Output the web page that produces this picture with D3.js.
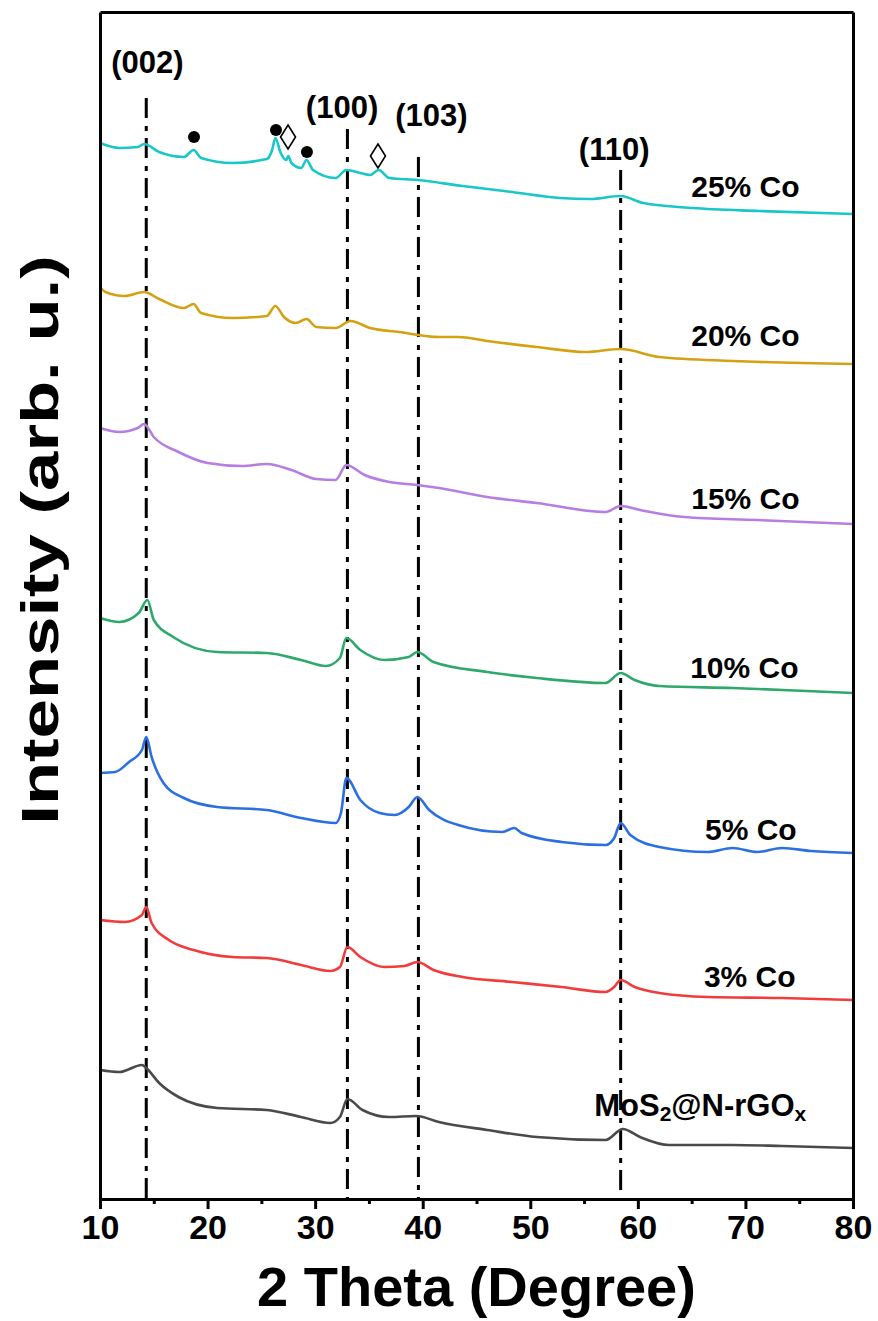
<!DOCTYPE html>
<html>
<head>
<meta charset="utf-8">
<script src="https://cdn.jsdelivr.net/npm/d3@7"></script>
<style>
  html, body { margin: 0; padding: 0; background: #fff; }
  svg text { font-family: "Liberation Sans", Arial, sans-serif; font-weight: bold; fill: #000; }
</style>
</head>
<body>
<div id="chart"></div>
<script>
// XRD patterns, 2 theta (deg) vs intensity (arb. u., stacked offsets)
const xTicks = [10, 20, 30, 40, 50, 60, 70, 80];
const xMinorTicks = [15, 25, 35, 45, 55, 65, 75];

const seriesNames  = ["25% Co", "20% Co", "15% Co", "10% Co", "5% Co", "3% Co", "MoS2@N-rGOx"];
const seriesColors = ["#19c6c8", "#d4a112", "#b67ee0", "#2ea96b", "#2b6fe0", "#f23c3c", "#4a4a4a"];

const co25 = [[10,1056],[11.8,1051],[13.5,1052],[14.1,1055],[15.5,1047],[17.8,1042],[18.7,1049],[19.4,1041],[22.3,1036],[25.5,1040],[26.0,1049],[26.3,1061],[26.8,1046],[27.3,1039],[27.5,1043],[27.8,1036],[28.7,1031],[29.2,1039],[29.8,1029],[31.9,1021],[32.9,1029],[34.2,1026],[35.1,1024],[35.9,1029],[36.9,1021],[39.5,1019],[43.7,1013],[48.3,1007],[52.8,1001],[55.6,1000],[58.4,1003],[60.5,996],[65.1,991],[71.3,988],[80,985]];
const co20 = [[10,912],[10.5,907],[12.3,903],[14.1,907],[15.5,900],[17.8,891],[18.7,895],[19.4,886],[22.3,881],[25.5,883],[26.3,893],[27.1,882],[28.2,876],[29.2,880],[30.1,872],[31.9,871],[33.3,878],[35.1,871],[37.8,867],[41.5,862],[43.3,862],[46.0,858],[50.6,852],[55.1,847],[58.4,850],[62.0,842],[68.8,838],[80,835]];
const co15 = [[10,771],[11.8,767],[13.5,771],[14.1,775],[15.0,762],[17.3,747],[20.0,736],[23.2,733],[25.5,735],[27.8,729],[30.1,720],[31.9,719],[32.9,734],[34.6,724],[36.9,717],[39.5,714],[41.5,711],[46.0,702],[50.6,696],[57.0,687],[58.4,693],[60.2,689],[64.3,682],[71.1,679],[80,675]];
const co10 = [[10,581],[11.8,577],[13.6,586],[14.4,599],[15.0,579],[16.8,562],[20.9,547],[25.5,546],[28.7,539],[31.0,533],[32.3,541],[32.9,561],[34.2,549],[36.4,539],[38.7,542],[39.5,547],[41.0,537],[46.0,527],[50.6,521],[57.0,516],[58.4,526],[59.7,519],[62.0,513],[68.8,511],[75.7,508],[80,506]];
const co5  = [[10,426],[11.4,427],[12.7,437],[13.9,449],[14.3,462],[14.8,442],[15.9,416],[17.8,401],[20.9,392],[25.5,389],[28.7,381],[31.9,376],[32.4,386],[32.9,421],[34.2,399],[36.0,386],[37.4,384],[38.7,392],[39.5,402],[40.6,389],[43.3,374],[47.4,367],[48.5,371],[49.2,366],[52.9,357],[57.0,354],[57.8,361],[58.4,376],[59.3,364],[62.0,352],[66.5,347],[68.8,351],[71.1,347],[73.4,351],[76.1,348],[80,346]];
const co3  = [[10,279],[12.3,277],[13.9,284],[14.3,292],[14.8,276],[16.4,259],[18.7,249],[22.3,242],[25.5,241],[28.7,234],[31.4,228],[32.3,232],[33.0,252],[34.2,242],[36.4,232],[38.3,233],[39.5,237],[41.0,229],[43.7,222],[48.3,217],[52.9,212],[57.0,207],[57.8,212],[58.4,219],[59.7,212],[62.0,206],[66.5,202],[73.4,201],[80,199]];
const mos2 = [[10,129],[11.8,127],[13.9,134],[14.3,131],[15.5,116],[17.3,102],[20.9,91],[25.5,89],[28.7,82],[31.4,76],[32.3,82],[33.0,100],[34.4,89],[36.9,82],[39.4,83],[41.5,77],[46.0,69],[50.6,62],[57.0,59],[58.6,70],[60.2,62],[62.9,54],[68.8,54],[73.4,53],[80,51]];
const seriesData = [co25, co20, co15, co10, co5, co3, mos2];

// series label anchors (2theta, intensity)
const seriesLabelX = [70, 70, 70, 69.9, 70.5, 70.4, 65.8];
const seriesLabelY = [1013, 864, 701, 532, 370, 223, 94];

// reference planes
const planes      = ["(002)", "(100)", "(103)", "(110)"];
const planePos    = [14.3, 33.0, 39.6, 58.4];
const planeTop    = [1101, 1070, 1042, 1029];
const planeLabelX = [14.4, 32.5, 40.8, 57.8];
const planeLabelY = [1137, 1092, 1084, 1050];

// impurity markers: circles and open diamonds
const dotPos     = [[18.74, 1062], [26.36, 1069], [29.24, 1047]];
const diamondPos = [[27.48, 1062], [35.84, 1043]];

const W = 878, H = 1321;
const margin = { top: 12, right: 25, bottom: 122, left: 100 };

const svg = d3.select("#chart").append("svg")
  .attr("width", W).attr("height", H)
  .style("background", "#fff");

const x = d3.scaleLinear().domain([10, 80]).range([margin.left, W - margin.right]);
const y = d3.scaleLinear().domain([0, 1187]).range([H - margin.bottom, margin.top]);

// dash-dot reference lines
svg.append("g").selectAll("line")
  .data(planePos).enter().append("line")
  .attr("x1", d => x(d)).attr("x2", d => x(d))
  .attr("y1", (d, i) => y(planeTop[i])).attr("y2", y(0))
  .attr("stroke", "#000").attr("stroke-width", 3)
  .attr("stroke-dasharray", "20,8,5,7");

// curves
const line = d3.line().x(d => x(d[0])).y(d => y(d[1])).curve(d3.curveMonotoneX);
svg.append("g").selectAll("path")
  .data(seriesData).enter().append("path")
  .attr("d", line)
  .attr("fill", "none")
  .attr("stroke", (d, i) => seriesColors[i])
  .attr("stroke-width", 2.6)
  .attr("stroke-linejoin", "round");

// series labels
const labels = svg.append("g").selectAll("text")
  .data(seriesNames).enter().append("text")
  .attr("x", (d, i) => x(seriesLabelX[i]))
  .attr("y", (d, i) => y(seriesLabelY[i]))
  .attr("text-anchor", "middle")
  .attr("dominant-baseline", "central")
  .style("font-size", "30px");
labels.filter(d => d !== "MoS2@N-rGOx").text(d => d);
labels.filter(d => d === "MoS2@N-rGOx")
  .style("font-size", "31px")
  .each(function () {
    const t = d3.select(this);
    t.append("tspan").text("MoS");
    t.append("tspan").text("2").style("font-size", "21px").attr("dy", 8);
    t.append("tspan").text("@N-rGO").attr("dy", -8);
    t.append("tspan").text("x").style("font-size", "21px").attr("dy", 8);
  });

// plane labels
svg.append("g").selectAll("text")
  .data(planes).enter().append("text")
  .attr("x", (d, i) => x(planeLabelX[i]))
  .attr("y", (d, i) => y(planeLabelY[i]))
  .attr("text-anchor", "middle")
  .attr("dominant-baseline", "central")
  .style("font-size", "31px")
  .text(d => d);

// markers
svg.append("g").selectAll("circle")
  .data(dotPos).enter().append("circle")
  .attr("cx", d => x(d[0])).attr("cy", d => y(d[1]))
  .attr("r", 6).attr("fill", "#000");
svg.append("g").selectAll("path")
  .data(diamondPos).enter().append("path")
  .attr("d", d => {
    const cx = x(d[0]), cy = y(d[1]);
    return `M${cx},${cy - 12}L${cx + 7.5},${cy}L${cx},${cy + 12}L${cx - 7.5},${cy}Z`;
  })
  .attr("fill", "#fff").attr("stroke", "#000").attr("stroke-width", 1.6);

// axes frame
const axisW = 3;
const xAxis = svg.append("g")
  .attr("transform", `translate(0,${y(0)})`)
  .call(d3.axisBottom(x).tickValues(xTicks).tickSize(10).tickPadding(6).tickSizeOuter(0));
svg.append("g")
  .attr("transform", `translate(0,${y(0)})`)
  .call(d3.axisBottom(x).tickValues(xMinorTicks).tickSize(5).tickFormat(""))
  .call(g => g.select(".domain").remove());
svg.append("g").attr("transform", `translate(0,${y(1187)})`)
  .call(d3.axisTop(x).tickValues([]).tickSizeOuter(0));
svg.append("g").attr("transform", `translate(${x(10)},0)`)
  .call(d3.axisLeft(y).tickValues([]).tickSizeOuter(0));
svg.append("g").attr("transform", `translate(${x(80)},0)`)
  .call(d3.axisRight(y).tickValues([]).tickSizeOuter(0));

svg.selectAll(".domain").attr("stroke", "#000").attr("stroke-width", axisW);
svg.selectAll(".tick line").attr("stroke", "#000").attr("stroke-width", axisW);
xAxis.selectAll(".tick text")
  .style("font-family", "'Liberation Sans', Arial, sans-serif")
  .style("font-weight", "bold")
  .style("font-size", "34px")
  .attr("fill", "#000");

// axis titles
svg.append("text")
  .attr("x", x(45)).attr("y", 1306)
  .attr("text-anchor", "middle")
  .style("font-size", "56px")
  .text("2 Theta (Degree)");

svg.append("text")
  .attr("transform", `translate(58,540) rotate(-90) scale(1.36,1)`)
  .attr("text-anchor", "middle")
  .style("font-size", "52px")
  .text("Intensity (arb. u.)");
</script>
</body>
</html>
